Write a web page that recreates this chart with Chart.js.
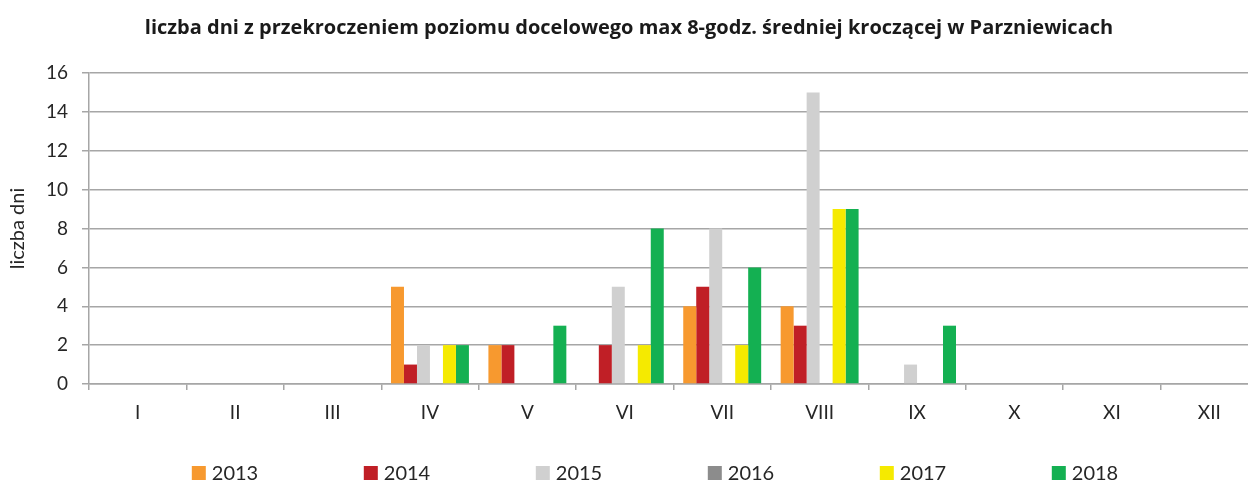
<!DOCTYPE html>
<html lang="pl">
  <head>
    <meta charset="UTF-8" />
    <title>liczba dni z przekroczeniem - Parzniewice</title>
    <script src="https://cdn.jsdelivr.net/npm/chart.js@4"></script>
    <style>
      html, body { margin: 0; padding: 0; background: #fff; overflow: hidden; }
      .wrap { width: 1258px; height: 481px; }
    </style>
  </head>
  <body>
    <div class="wrap">
      <canvas id="chart" width="1258" height="481"></canvas>
    </div>

    <script>
      // dane
      const months = ["I", "II", "III", "IV", "V", "VI", "VII", "VIII", "IX", "X", "XI", "XII"];
      const years = ["2013", "2014", "2015", "2016", "2017", "2018"];
      const colors = ["#f7992f", "#c01f26", "#d0d0d0", "#8c8c8c", "#f5ea00", "#14b052"];

      const d2013 = [0, 0, 0, 5, 2, 0, 4, 4, 0, 0, 0, 0];
      const d2014 = [0, 0, 0, 1, 2, 2, 5, 3, 0, 0, 0, 0];
      const d2015 = [0, 0, 0, 2, 0, 5, 8, 15, 1, 0, 0, 0];
      const d2016 = [0, 0, 0, 0, 0, 0, 0, 0, 0, 0, 0, 0];
      const d2017 = [0, 0, 0, 2, 0, 2, 2, 9, 0, 0, 0, 0];
      const d2018 = [0, 0, 0, 2, 3, 8, 6, 9, 3, 0, 0, 0];

      const yTicks = [0, 2, 4, 6, 8, 10, 12, 14, 16];

      const series = [d2013, d2014, d2015, d2016, d2017, d2018];
      const gridColor = "#a6a6a6";
      const FONT = "Lato";

      // legenda rysowana recznie - rowne odstepy jak w Excelu
      const excelLegend = {
        id: "excelLegend",
        afterDraw(chart) {
          const ctx = chart.ctx;
          const sets = chart.data.datasets;
          const spacing = 172, box = 14, gap = 6, centerX = 655, centerY = 473;
          ctx.save();
          ctx.font = "20px " + FONT;
          ctx.textBaseline = "middle";
          const lastW = box + gap + ctx.measureText(sets[sets.length - 1].label).width;
          let x = centerX - ((sets.length - 1) * spacing + lastW) / 2;
          sets.forEach((ds) => {
            ctx.fillStyle = ds.backgroundColor;
            ctx.fillRect(x, centerY - box / 2, box, box);
            ctx.fillStyle = "#262626";
            ctx.fillText(ds.label, x + box + gap, centerY + 1);
            x += spacing;
          });
          ctx.restore();
        },
      };

      new Chart(document.getElementById("chart"), {
        type: "bar",
        data: {
          labels: months,
          datasets: years.map((y, i) => ({
            label: y,
            data: series[i],
            backgroundColor: colors[i],
            borderWidth: 0,
            categoryPercentage: 0.8,
            barPercentage: 1.0,
          })),
        },
        options: {
          responsive: false,
          animation: false,
          layout: { padding: { left: 0, right: 0, top: 0, bottom: 57 } },
          plugins: {
            legend: { display: false },
            tooltip: { enabled: false },
            title: {
              display: true,
              text: "liczba dni z przekroczeniem poziomu docelowego max 8-godz. średniej kroczącej w Parzniewicach",
              color: "#1a1a1a",
              font: { family: "Open Sans", size: 20, weight: "bold" },
              padding: { top: 16, bottom: 33 },
            },
          },
          scales: {
            x: {
              offset: true,
              grid: {
                offset: true,
                drawOnChartArea: false,
                drawTicks: true,
                tickLength: 6,
                color: gridColor,
                lineWidth: 1.5,
              },
              border: { display: true, color: gridColor, width: 1.5 },
              ticks: {
                color: "#262626",
                font: { family: FONT, size: 19 },
                padding: 11,
                maxRotation: 0,
              },
              afterFit: (scale) => { scale.height = 40; },
            },
            y: {
              min: 0,
              max: 16,
              afterBuildTicks: (scale) => {
                scale.ticks = yTicks.map((v) => ({ value: v }));
              },
              grid: {
                color: gridColor,
                lineWidth: 1.5,
                drawTicks: true,
                tickLength: 7,
              },
              border: { display: true, color: gridColor, width: 1.5 },
              ticks: {
                color: "#262626",
                font: { family: FONT, size: 19 },
                padding: 14,
              },
              title: {
                display: true,
                text: "liczba dni",
                color: "#262626",
                font: { family: FONT, size: 20 },
                padding: { top: 6, bottom: 0 },
              },
              afterFit: (scale) => { scale.width = 89; },
            },
          },
        },
        plugins: [excelLegend],
      });
    </script>
  </body>
</html>
